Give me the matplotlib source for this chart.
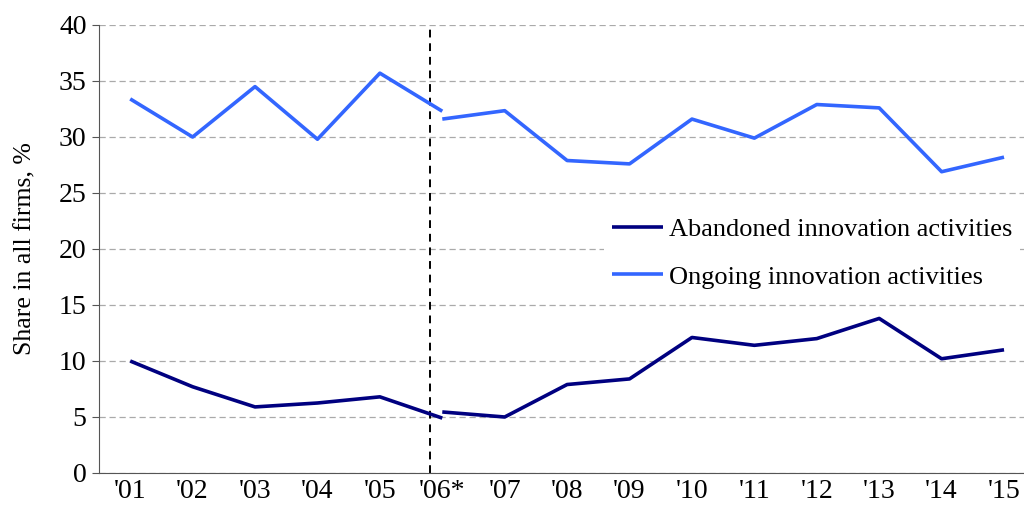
import matplotlib
matplotlib.use("Agg")
import matplotlib.pyplot as plt
import numpy as np

# x categories
years = ["'01", "'02", "'03", "'04", "'05", "'06*", "'07", "'08", "'09", "'10",
         "'11", "'12", "'13", "'14", "'15"]

# series, split at the 2006 break in methodology
ongoing_old = [33.4, 30.0, 34.5, 29.8, 35.7, 32.3]
ongoing_new = [31.6, 32.35, 27.9, 27.6, 31.6, 29.9, 32.9, 32.6, 26.9, 28.2]
abandoned_old = [10.0, 7.7, 5.9, 6.25, 6.8, 4.9]
abandoned_new = [5.45, 5.0, 7.9, 8.4, 12.1, 11.4, 12.0, 13.8, 10.2, 11.0]

break_pos = 4.81  # position of the dashed separator, between '05 and '06*

plt.rcParams['font.family'] = ['Liberation Serif', 'DejaVu Serif']

fig = plt.figure(figsize=(10.24, 5.22), dpi=100)
ax = fig.add_axes([99 / 1024, 1 - 473 / 522, 1 - 99 / 1024, (473 - 25) / 522])

x_old = np.arange(0, 6)
x_new = np.arange(5, 15)

dark = '#000080'
light = '#3366FF'

ax.plot(x_old, abandoned_old, color=dark, lw=2.6, solid_capstyle='butt', zorder=3,
        label='Abandoned innovation activities')
ax.plot(x_new, abandoned_new, color=dark, lw=2.6, solid_capstyle='butt', zorder=3)
ax.plot(x_old, ongoing_old, color=light, lw=2.6, solid_capstyle='butt', zorder=3,
        label='Ongoing innovation activities')
ax.plot(x_new, ongoing_new, color=light, lw=2.6, solid_capstyle='butt', zorder=3)

ax.axvline(break_pos, color='black', lw=1.4, ls=(0, (4, 3)), zorder=2)

ax.set_ylim(0, 40)
ax.set_yticks(range(0, 41, 5))
ax.set_xlim(-0.5, 14.32)
ax.set_xticks(range(len(years)))
ax.set_xticklabels(years)

ax.yaxis.grid(True, color='#aaaaaa', ls=(0, (5, 3)), lw=0.9)
ax.set_axisbelow(True)

for s in ['top', 'right']:
    ax.spines[s].set_visible(False)
ax.spines['left'].set_color('#555555')
ax.spines['bottom'].set_color('#555555')

ax.tick_params(axis='y', labelsize=20, length=5, color='#555555', pad=4)
ax.tick_params(axis='x', labelsize=20, length=0, pad=4)

ax.set_ylabel('Share in all firms, %', fontsize=18.5, labelpad=16)

leg = ax.legend(loc='upper left', bbox_to_anchor=(604 / 1024, 1 - 210 / 522),
                bbox_transform=fig.transFigure, fontsize=19, frameon=True,
                fancybox=False, edgecolor='none', facecolor='white', framealpha=1,
                handlelength=1.95, handletextpad=0.2, labelspacing=0.9,
                borderaxespad=0, borderpad=0.3)

fig.savefig('out.png', dpi=100)
